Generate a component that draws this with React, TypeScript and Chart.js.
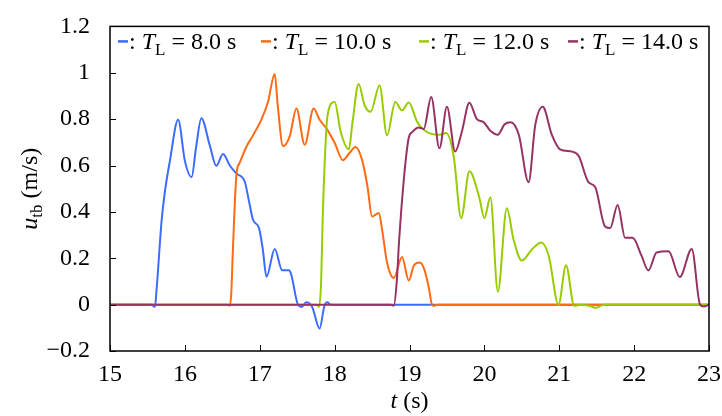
import React, { useEffect, useRef } from "react";
import { Chart, registerables } from "chart.js";

Chart.register(...registerables);

// ---- data ----
const T_BLUE = [15, 15.55, 15.6, 15.62, 15.69, 15.73, 15.8, 15.91, 16.0, 16.09, 16.15, 16.22, 16.33, 16.42, 16.51, 16.6, 16.69, 16.8, 16.86, 16.91, 16.99, 17.04, 17.09, 17.2, 17.3, 17.39, 17.42, 17.51, 17.56, 17.62, 17.7, 17.8, 17.86, 17.9, 17.95, 23];
const U_BLUE = [0, 0, -0.01, 0.056, 0.365, 0.48, 0.62, 0.797, 0.62, 0.55, 0.68, 0.804, 0.69, 0.599, 0.65, 0.6, 0.565, 0.53, 0.44, 0.366, 0.33, 0.24, 0.12, 0.24, 0.148, 0.148, 0.13, 0, -0.01, 0.01, -0.01, -0.103, -0.01, 0.01, 0, 0];

const T_ORANGE = [15, 16.56, 16.6, 16.62, 16.64, 16.69, 16.73, 16.82, 16.91, 17.02, 17.11, 17.2, 17.24, 17.31, 17.4, 17.49, 17.6, 17.72, 17.8, 17.89, 18.0, 18.11, 18.2, 18.28, 18.37, 18.44, 18.5, 18.59, 18.64, 18.7, 18.79, 18.9, 18.99, 19.06, 19.14, 19.2, 19.26, 19.3, 19.33, 19.38, 23];
const U_ORANGE = [0, 0, -0.005, 0.05, 0.225, 0.565, 0.61, 0.68, 0.73, 0.797, 0.874, 0.995, 0.86, 0.684, 0.726, 0.846, 0.69, 0.846, 0.797, 0.76, 0.698, 0.623, 0.655, 0.68, 0.62, 0.507, 0.38, 0.395, 0.31, 0.182, 0.115, 0.205, 0.104, 0.17, 0.182, 0.15, 0.07, 0, -0.005, 0, 0];

const T_GREEN = [15, 17.76, 17.79, 17.82, 17.84, 17.89, 17.91, 18.0, 18.08, 18.19, 18.24, 18.32, 18.4, 18.48, 18.6, 18.7, 18.81, 18.9, 18.99, 19.1, 19.17, 19.26, 19.4, 19.49, 19.59, 19.69, 19.8, 19.93, 20.0, 20.08, 20.18, 20.3, 20.39, 20.5, 20.64, 20.76, 20.86, 20.99, 21.09, 21.2, 21.3, 21.4, 21.49, 21.6, 23];
const U_GREEN = [0, 0, -0.01, 0.1, 0.366, 0.76, 0.825, 0.874, 0.747, 0.67, 0.79, 0.952, 0.86, 0.832, 0.945, 0.73, 0.874, 0.838, 0.872, 0.79, 0.76, 0.74, 0.733, 0.74, 0.64, 0.373, 0.575, 0.465, 0.373, 0.463, 0.056, 0.416, 0.28, 0.19, 0.24, 0.268, 0.21, 0, 0.17, -0.005, 0, -0.005, -0.014, 0, 0];

const T_PURPLE = [15, 18.75, 18.79, 18.83, 18.86, 18.93, 18.99, 19.04, 19.12, 19.19, 19.29, 19.4, 19.5, 19.61, 19.7, 19.8, 19.9, 19.99, 20.08, 20.18, 20.27, 20.35, 20.46, 20.59, 20.68, 20.78, 20.9, 21.01, 21.17, 21.26, 21.39, 21.48, 21.61, 21.68, 21.78, 21.88, 21.98, 22.1, 22.19, 22.3, 22.46, 22.61, 22.77, 22.88, 22.93, 23];
const U_PURPLE = [0, 0, -0.005, 0.1, 0.27, 0.56, 0.72, 0.745, 0.764, 0.758, 0.895, 0.674, 0.853, 0.66, 0.747, 0.871, 0.8, 0.787, 0.75, 0.733, 0.778, 0.787, 0.733, 0.528, 0.775, 0.853, 0.733, 0.67, 0.66, 0.641, 0.528, 0.507, 0.338, 0.33, 0.43, 0.288, 0.288, 0.21, 0.147, 0.225, 0.23, 0.119, 0.24, 0, -0.008, 0];

const LEGEND_VALUES = ["8.0", "10.0", "12.0", "14.0"];
const COLORS = ["#3b6cff", "#ff6a12", "#99cc00", "#963264"];
const Y_TICKS = [-0.2, 0, 0.2, 0.4, 0.6, 0.8, 1, 1.2];
const X_TICKS = [15, 16, 17, 18, 19, 20, 21, 22, 23];

const SERIES_T = [T_BLUE, T_ORANGE, T_GREEN, T_PURPLE];
const SERIES_U = [U_BLUE, U_ORANGE, U_GREEN, U_PURPLE];

const FONT = '"Liberation Serif", Tinos, "Times New Roman", serif';
const FS = 24;
// legend entry start offsets from plot left edge (layout)
const LEGEND_OFFSETS = [8, 151, 309, 458];

type Seg = { t: string; it?: boolean; sub?: boolean };

function segFont(s: Seg, size: number) {
  const sz = s.sub ? Math.round(size * 0.72) : size;
  return `${s.it ? "italic " : ""}${sz}px ${FONT}`;
}
function richWidth(ctx: CanvasRenderingContext2D, segs: Seg[], size: number) {
  let w = 0;
  for (const s of segs) {
    ctx.font = segFont(s, size);
    w += ctx.measureText(s.t).width;
  }
  return w;
}
function drawRich(ctx: CanvasRenderingContext2D, segs: Seg[], x: number, y: number, size: number) {
  let cx = x;
  ctx.textBaseline = "alphabetic";
  ctx.textAlign = "left";
  for (const s of segs) {
    ctx.font = segFont(s, size);
    ctx.fillText(s.t, cx, y + (s.sub ? size * 0.22 : 0));
    cx += ctx.measureText(s.t).width;
  }
  return cx;
}

const decorPlugin = {
  id: "decor",
  afterDraw(chart: any) {
    const ctx: CanvasRenderingContext2D = chart.ctx;
    const { left, right, top, bottom } = chart.chartArea;
    const xs = chart.scales.x;
    const ys = chart.scales.y;
    ctx.save();
    ctx.strokeStyle = "#000";
    ctx.fillStyle = "#000";
    ctx.lineWidth = 1;
    ctx.beginPath();
    for (const v of Y_TICKS) {
      const py = Math.round(ys.getPixelForValue(v)) + 0.5;
      ctx.moveTo(left, py);
      ctx.lineTo(left + 6, py);
    }
    for (const v of X_TICKS) {
      const px = Math.round(xs.getPixelForValue(v)) + 0.5;
      ctx.moveTo(px, bottom);
      ctx.lineTo(px, bottom - 6);
    }
    ctx.stroke();
    ctx.lineWidth = 1.5;
    ctx.strokeRect(left, top, right - left, bottom - top);

    // legend
    const dash = 10;
    const base = top + 23;
    LEGEND_VALUES.forEach((v, i) => {
      const segs: Seg[] = [
        { t: ": " },
        { t: "T", it: true },
        { t: "L", sub: true },
        { t: " = " },
        { t: `${v} s` },
      ];
      const x = left + LEGEND_OFFSETS[i];
      ctx.strokeStyle = COLORS[i];
      ctx.lineWidth = 2.5;
      ctx.beginPath();
      ctx.moveTo(x, base - 8);
      ctx.lineTo(x + dash, base - 8);
      ctx.stroke();
      ctx.fillStyle = "#000";
      drawRich(ctx, segs, x + dash + 1, base, FS);
    });

    const xt: Seg[] = [{ t: "t", it: true }, { t: " (s)" }];
    const xw = richWidth(ctx, xt, FS);
    drawRich(ctx, xt, (left + right) / 2 - xw / 2, 408, FS);

    const yt: Seg[] = [{ t: "u", it: true }, { t: "tb", sub: true }, { t: " (m/s)" }];
    const yw = richWidth(ctx, yt, FS);
    ctx.translate(37, (top + bottom) / 2);
    ctx.rotate(-Math.PI / 2);
    drawRich(ctx, yt, -yw / 2, 0, FS);
    ctx.restore();
  },
};

function fmt(v: number) {
  const r = Math.round(v * 10) / 10;
  const s = Number.isInteger(r) ? String(r) : r.toFixed(1);
  return s.replace("-", "\u2212");
}

export default function App() {
  const ref = useRef<HTMLCanvasElement | null>(null);
  useEffect(() => {
    if (!ref.current) return;
    const datasets = SERIES_T.map((ts, i) => ({
      label: LEGEND_VALUES[i],
      data: ts.map((t, j) => ({ x: t, y: SERIES_U[i][j] })),
      borderColor: COLORS[i],
      backgroundColor: COLORS[i],
      borderWidth: 2,
      pointRadius: 0,
      cubicInterpolationMode: "monotone" as const,
      fill: false,
      order: 3 - i,
    }));
    const chart = new Chart(ref.current, {
      type: "line",
      data: { datasets },
      options: {
        animation: false,
        responsive: false,
        layout: { padding: { top: 17, right: 11, left: 0, bottom: 0 } },
        plugins: { legend: { display: false }, tooltip: { enabled: false } },
        scales: {
          x: {
            type: "linear",
            min: 15,
            max: 23,
            afterFit: (s: any) => { s.height = 65; },
            afterBuildTicks: (s: any) => { s.ticks = X_TICKS.map((v) => ({ value: v })); },
            grid: { display: false },
            border: { display: false },
            ticks: { color: "#000", padding: 1, font: { family: FONT, size: FS }, callback: (v: any) => String(v) },
          },
          y: {
            type: "linear",
            min: -0.2,
            max: 1.2,
            afterFit: (s: any) => { s.width = 110; },
            afterBuildTicks: (s: any) => { s.ticks = Y_TICKS.map((v) => ({ value: v })); },
            grid: { display: false },
            border: { display: false },
            ticks: { color: "#000", padding: 12, font: { family: FONT, size: FS }, callback: (v: any) => fmt(Number(v)) },
          },
        },
      },
      plugins: [decorPlugin],
    });
    let alive = true;
    const fonts: any = (document as any).fonts;
    if (fonts && fonts.load) {
      Promise.all([
        fonts.load('24px "Liberation Serif"'),
        fonts.load('italic 24px "Liberation Serif"'),
        fonts.load('17px "Liberation Serif"'),
      ]).then(() => { if (alive) chart.update(); }).catch(() => {});
    }
    return () => { alive = false; chart.destroy(); };
  }, []);
  return (
    <div style={{ position: "absolute", left: 0, top: 0, width: 722, height: 416, background: "#fff" }}>
      <canvas ref={ref} width={722} height={416} style={{ display: "block" }} />
    </div>
  );
}
